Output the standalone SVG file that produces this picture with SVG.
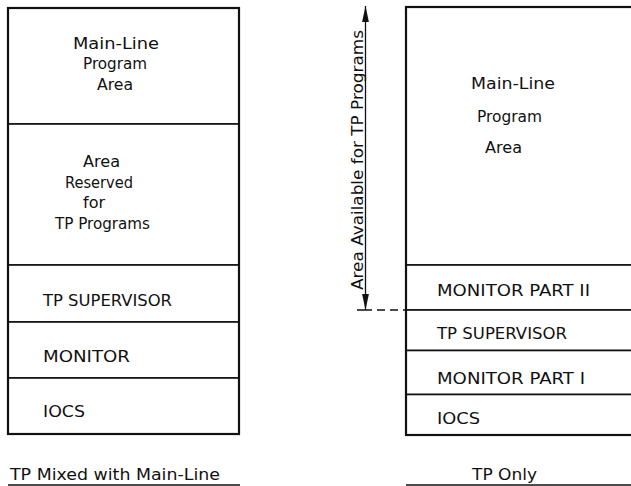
<svg xmlns="http://www.w3.org/2000/svg" width="631" height="486" viewBox="0 0 631 486">
<style>
text{font-family:"DejaVu Sans","Liberation Sans",sans-serif;font-size:16px;fill:#111}
.box{fill:#fff;stroke:#111;stroke-width:1.6}
.outer{fill:none;stroke:#111;stroke-width:2.2}
.ul{stroke:#111;stroke-width:1.5}
.conn{stroke:#111;stroke-width:1.3;fill:none}
</style>
<defs>
<marker id="ah" markerUnits="userSpaceOnUse" markerWidth="16" markerHeight="8" refX="16" refY="4" orient="auto-start-reverse">
<path d="M0,0.6 L16,4 L0,7.4 z" fill="#111"/>
</marker>
</defs>
<rect width="631" height="486" fill="#fff"/>

<g id="left-stack">
<g id="l-mainline"><rect class="box" x="8" y="8" width="231" height="116"/>
<text x="73" y="49" textLength="86" lengthAdjust="spacingAndGlyphs">Main-Line</text>
<text x="83" y="69" textLength="64" lengthAdjust="spacingAndGlyphs">Program</text>
<text x="97" y="90" textLength="36" lengthAdjust="spacingAndGlyphs">Area</text></g>
<g id="l-reserved"><rect class="box" x="8" y="124" width="231" height="141"/>
<text x="83" y="167" textLength="37" lengthAdjust="spacingAndGlyphs">Area</text>
<text x="65" y="188" textLength="68" lengthAdjust="spacingAndGlyphs">Reserved</text>
<text x="94" y="208" text-anchor="middle">for</text>
<text x="55" y="229" textLength="95" lengthAdjust="spacingAndGlyphs">TP Programs</text></g>
<g id="l-tpsup"><rect class="box" x="8" y="265" width="231" height="57"/>
<text x="43" y="306" textLength="129" lengthAdjust="spacingAndGlyphs">TP SUPERVISOR</text></g>
<g id="l-monitor"><rect class="box" x="8" y="322" width="231" height="56"/>
<text x="43" y="362" textLength="87" lengthAdjust="spacingAndGlyphs">MONITOR</text></g>
<g id="l-iocs"><rect class="box" x="8" y="378" width="231" height="56"/>
<text x="43" y="417" textLength="42" lengthAdjust="spacingAndGlyphs">IOCS</text></g>
<rect class="outer" x="8" y="8" width="231" height="426"/>
</g>

<g id="right-stack">
<g id="r-mainline"><rect class="box" x="406" y="7" width="240" height="258"/>
<text x="471" y="89" textLength="84" lengthAdjust="spacingAndGlyphs">Main-Line</text>
<text x="477" y="122" textLength="65" lengthAdjust="spacingAndGlyphs">Program</text>
<text x="485" y="153" textLength="37" lengthAdjust="spacingAndGlyphs">Area</text></g>
<g id="r-mon2"><rect class="box" x="406" y="265" width="240" height="45"/>
<text x="437" y="296" textLength="153" lengthAdjust="spacingAndGlyphs">MONITOR PART II</text></g>
<g id="r-tpsup"><rect class="box" x="406" y="310" width="240" height="40.5"/>
<text x="437" y="339" textLength="130" lengthAdjust="spacingAndGlyphs">TP SUPERVISOR</text></g>
<g id="r-mon1"><rect class="box" x="406" y="350.5" width="240" height="44"/>
<text x="437" y="384" textLength="148" lengthAdjust="spacingAndGlyphs">MONITOR PART I</text></g>
<g id="r-iocs"><rect class="box" x="406" y="394.5" width="240" height="40.5"/>
<text x="437" y="424" textLength="43" lengthAdjust="spacingAndGlyphs">IOCS</text></g>
<rect class="outer" x="406" y="7" width="240" height="428"/>
</g>

<g id="area-label">
<text transform="translate(363,290) rotate(-90)" textLength="260" lengthAdjust="spacingAndGlyphs">Area Available for TP Programs</text>
</g>

<g id="caption-left">
<text x="10" y="480" textLength="210" lengthAdjust="spacingAndGlyphs">TP Mixed with Main-Line</text>
<line class="ul" x1="8" y1="485" x2="240" y2="485"/>
</g>
<g id="caption-right">
<text x="472" y="480" textLength="65" lengthAdjust="spacingAndGlyphs">TP Only</text>
<line class="ul" x1="406" y1="485" x2="631" y2="485"/>
</g>

<g id="connectors">
<line class="conn" x1="365.5" y1="6" x2="365.5" y2="310" marker-start="url(#ah)" marker-end="url(#ah)"/>
<line class="conn" x1="357" y1="310" x2="406" y2="310" stroke-dasharray="15 5 8 5 8 5 3" stroke-width="1.6"/>
</g>
</svg>
